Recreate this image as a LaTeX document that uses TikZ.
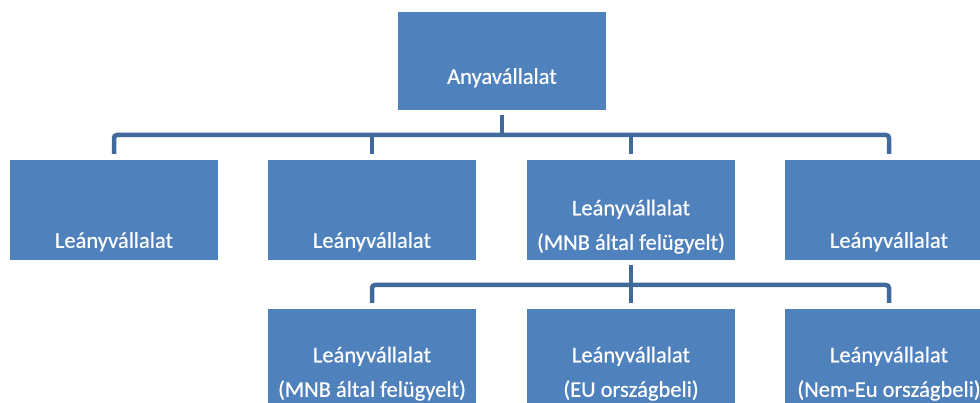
\documentclass[tikz,border=0pt]{standalone}
\usepackage{fontspec}
\setmainfont{Carlito}
\newfontfamily\boxfont{Carlito}[FakeBold=0.5]
\definecolor{boxblue}{HTML}{4F81BD}
\definecolor{lineblue}{HTML}{3F6A9B}
\tikzset{
  unit/.style={rectangle, fill=boxblue, minimum width=208pt, minimum height=100pt, inner sep=0pt},
  lbl/.style={text=white, font=\boxfont\fontsize{22.5}{34.5}\selectfont, align=center, anchor=base, inner sep=0pt},
  conn/.style={draw=lineblue, line width=4.5pt}
}
\begin{document}
\begin{tikzpicture}[x=1pt,y=-1pt]
    \useasboundingbox (0,0) rectangle (980,403);
    % parent
    \node[unit, minimum height=98pt] (parent) at (502,61) {};
    \node[lbl] (tparent) at ([yshift=-72pt]parent.north) {Anyavállalat};
    % first level
    \node[unit] (a1) at (114,210) {};
    \node[unit] (a2) at (372,210) {};
    \node[unit] (a3) at (631,210) {};
    \node[unit] (a4) at (889,210) {};
    \node[lbl] (ta1) at ([yshift=-88pt]a1.north) {Leányvállalat};
    \node[lbl] (ta2) at ([yshift=-88pt]a2.north) {Leányvállalat};
    \node[lbl] (ta3) at ([yshift=-90pt]a3.north) {Leányvállalat\\(MNB által felügyelt)};
    \node[lbl] (ta4) at ([yshift=-88pt]a4.north) {Leányvállalat};
    % second level
    \node[unit] (b1) at (372,359) {};
    \node[unit] (b2) at (631,359) {};
    \node[unit] (b3) at (889,359) {};
    \node[lbl] (tb1) at ([yshift=-88pt]b1.north) {Leányvállalat\\(MNB által felügyelt)};
    \node[lbl] (tb2) at ([yshift=-88pt]b2.north) {Leányvállalat\\(EU országbeli)};
    \node[lbl] (tb3) at ([yshift=-88pt]b3.north) {Leányvállalat\\(Nem-Eu országbeli)};
    % connectors
    \coordinate (bus1) at (0,135);
    \coordinate (bus2) at (0,285);
    \draw[conn] ([yshift=-5pt]parent.south) -- (parent.south |- bus1);
    \draw[conn, rounded corners=3pt] ([yshift=6pt]a1.north) -- (a1.north |- bus1)
        -- (a4.north |- bus1) -- ([yshift=6pt]a4.north);
    \draw[conn] (a2.north |- bus1) -- ([yshift=6pt]a2.north);
    \draw[conn] (a3.north |- bus1) -- ([yshift=6pt]a3.north);
    \draw[conn] ([yshift=-5pt]a3.south) -- ([yshift=6pt]b2.north);
    \draw[conn, rounded corners=3pt] ([yshift=6pt]b1.north) -- (b1.north |- bus2)
        -- (b3.north |- bus2) -- ([yshift=6pt]b3.north);
\end{tikzpicture}
\end{document}
